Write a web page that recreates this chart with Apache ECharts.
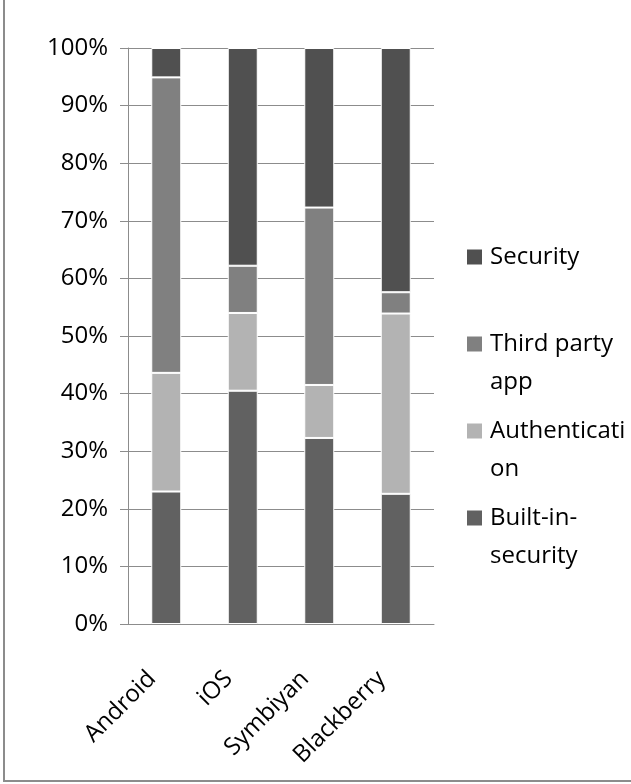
<!DOCTYPE html>
<html>
<head>
<meta charset="utf-8">
<style>
  html, body { margin: 0; padding: 0; background: #fff; }
  #chart { width: 631px; height: 784px; }
  #frame {
    position: absolute; left: 3px; top: 0; width: 628px; height: 780px;
    border-left: 2px solid #8c8c8c; border-bottom: 2px solid #8c8c8c;
    pointer-events: none;
  }
</style>
<script src="https://cdn.jsdelivr.net/npm/echarts@6/dist/echarts.min.js"></script>
</head>
<body>
<div id="chart"></div>
<div id="frame"></div>
<script>
// platforms on the x axis
var categories = ['Android', 'iOS', 'Symbiyan', 'Blackberry']
// percentage share of each platform (stacked to 100%)
var builtInSecurity = [23.0, 40.5, 32.3, 22.6]
var authentication = [20.6, 13.5, 9.2, 31.3]
var thirdPartyApp = [51.3, 8.2, 30.8, 3.7]
var security = [5.1, 37.8, 27.7, 42.4]
var yTicks = [0, 10, 20, 30, 40, 50, 60, 70, 80, 90, 100]

// legend names wrap like the original chart (blank first line keeps
// the marker level with the first line of text)
var legendText = {
  'Security': '\nSecurity\n ',
  'Third party app': '\nThird party\napp',
  'Authentication': '\nAuthenticati\non',
  'Built-in-security': '\nBuilt-in-\nsecurity'
}

var font = "'Open Sans', sans-serif"
var chart = echarts.init(document.getElementById('chart'))

function barSeries(name, data, color) {
  return {
    name: name,
    type: 'bar',
    stack: 'total',
    barWidth: 30,
    data: data,
    itemStyle: {
      color: color,
      borderColor: '#ffffff',
      borderWidth: 1
    }
  }
}

chart.setOption({
  animation: false,
  backgroundColor: '#ffffff',
  grid: {
    left: 128,
    right: 197,
    top: 48,
    bottom: 160
  },
  legend: {
    orient: 'vertical',
    left: 467,
    top: 200,
    padding: 0,
    itemGap: -27,
    itemWidth: 15,
    itemHeight: 15,
    icon: 'rect',
    selectedMode: false,
    data: ['Security', 'Third party app', 'Authentication', 'Built-in-security'],
    formatter: function(name) {
      return legendText[name]
    },
    itemStyle: {
      borderWidth: 0
    },
    textStyle: {
      fontFamily: font,
      fontSize: 24,
      lineHeight: 38,
      color: '#000',
      padding: [0, 0, 0, 3]
    }
  },
  xAxis: {
    type: 'category',
    data: categories,
    axisLine: {
      lineStyle: { color: '#8c8c8c', width: 1 }
    },
    axisTick: {
      length: 10,
      lineStyle: { color: '#8c8c8c' }
    },
    axisLabel: {
      rotate: 45,
      margin: 37,
      padding: [0, 20, 0, 0],
      fontFamily: font,
      fontSize: 24,
      color: '#000'
    }
  },
  yAxis: {
    type: 'value',
    min: yTicks[0],
    max: yTicks[yTicks.length - 1],
    interval: 10,
    axisLine: {
      show: true,
      lineStyle: { color: '#8c8c8c', width: 1 }
    },
    axisTick: {
      show: true,
      length: 8,
      lineStyle: { color: '#8c8c8c' }
    },
    splitLine: {
      lineStyle: { color: '#8c8c8c', width: 1 }
    },
    axisLabel: {
      margin: 20,
      fontFamily: font,
      fontSize: 24,
      color: '#000',
      formatter: '{value}%'
    }
  },
  series: [
    barSeries('Built-in-security', builtInSecurity, '#616161'),
    barSeries('Authentication', authentication, '#b3b3b3'),
    barSeries('Third party app', thirdPartyApp, '#808080'),
    barSeries('Security', security, '#505050')
  ]
})
</script>
</body>
</html>
